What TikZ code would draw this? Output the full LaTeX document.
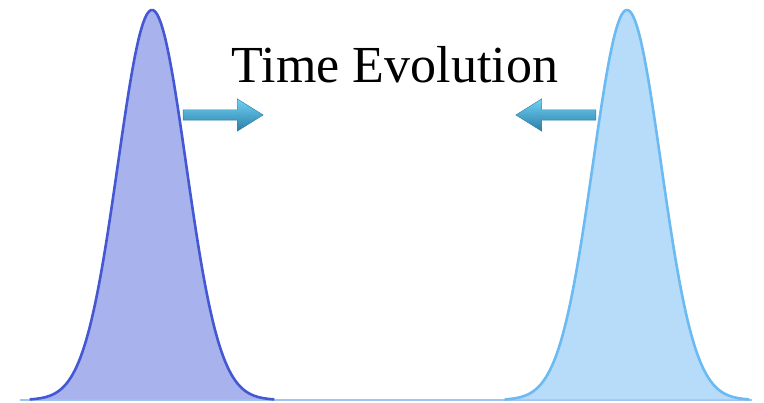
\documentclass[tikz,border=0pt]{standalone}
\usepackage{fontspec}
\setmainfont{Liberation Serif}
\usetikzlibrary{shapes.arrows}
\definecolor{leftFill}{RGB}{168,178,236}
\definecolor{leftLine}{RGB}{68,88,212}
\definecolor{rightFill}{RGB}{182,220,250}
\definecolor{rightLine}{RGB}{108,186,242}
\definecolor{axisLine}{RGB}{160,195,240}
\definecolor{arrowTop}{RGB}{110,210,245}
\definecolor{arrowBot}{RGB}{45,125,165}

\begin{document}
\begin{tikzpicture}[x=1pt,y=1pt,
    pulse/.style={line width=2.6pt, line join=round},
    mover/.style={single arrow, draw=arrowBot, thin, top color=arrowTop, bottom color=arrowBot,
        minimum height=80pt, minimum width=32pt, inner sep=5pt,
        single arrow head extend=11pt, single arrow tip angle=64},
    label/.style={font=\fontsize{52}{60}\selectfont}
]
\useasboundingbox (0,0) rectangle (764,403);

% Baseline
\coordinate (axisL) at (20,3);
\coordinate (axisR) at (752,3);
\draw[axisLine, line width=1.5pt] (axisL) -- (axisR);

% Left wave packet
\fill[leftFill] plot[domain=-3.6:3.6, samples=120] ({152+34*\x},{3+390*exp(-\x*\x/2)}) -- cycle;
\draw[pulse, leftLine] plot[domain=-3.6:3.6, samples=120] ({152+34*\x},{3+390*exp(-\x*\x/2)});

% Right wave packet
\fill[rightFill] plot[domain=-3.6:3.6, samples=120] ({627+34*\x},{3+390*exp(-\x*\x/2)}) -- cycle;
\draw[pulse, rightLine] plot[domain=-3.6:3.6, samples=120] ({627+34*\x},{3+390*exp(-\x*\x/2)});

% Arrows
\node[mover] (goRight) at (219,288) {};
\node[mover, shape border rotate=180] (goLeft) at (560,288) {};

% Title
\node[label] (title) at (395,338) {Time Evolution};

\end{tikzpicture}
\end{document}
